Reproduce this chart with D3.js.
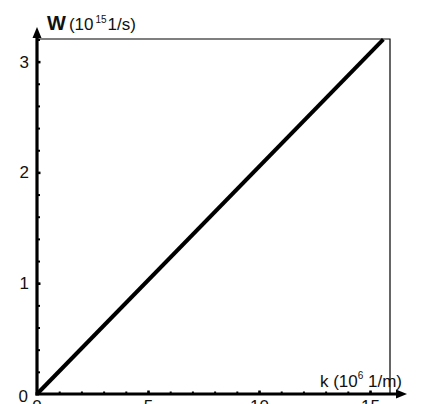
<!DOCTYPE html>
<html>
<head>
<meta charset="utf-8">
<script src="https://cdn.jsdelivr.net/npm/d3@7"></script>
<style>
  body { margin: 0; background: #fff; }
  svg { display: block; font-family: "Liberation Sans", Arial, sans-serif; }
</style>
</head>
<body>
<div class="chart"></div>
<script>
// data: dispersion line W(k)
const kValues = [0, 15.6];
const wValues = [0, 3.2];
const xTicks = [0, 5, 10, 15];
const yTicks = [0, 1, 2, 3];

const svg_width = 421;
const svg_height = 404;
const margin = { top: 39, right: 31, bottom: 10, left: 37 };
const width = svg_width - margin.left - margin.right;
const height = svg_height - margin.top - margin.bottom;

const svg = d3.select('.chart').append('svg')
    .attr('width', svg_width).attr('height', svg_height);
const g = svg.append('g')
    .attr('transform', `translate(${margin.left},${margin.top})`);

const xScale = d3.scaleLinear([0, 15.9], [0, width]);
const yScale = d3.scaleLinear([0, 3.204], [height, 0]);

// frame (top and right)
g.append('path')
    .attr('d', `M0,0H${width}V${height}`)
    .attr('fill', 'none').attr('stroke', '#000').attr('stroke-width', 1.2);

// minor ticks
const xMinor = d3.axisBottom(xScale).tickValues(d3.range(1, 16)).tickFormat('')
    .tickSizeInner(-2.5).tickSizeOuter(0);
g.append('g').attr('class', 'minor')
    .attr('transform', `translate(0,${height})`).call(xMinor);
const yMinor = d3.axisLeft(yScale).tickValues(d3.range(1, 17).map(i => i * 0.2)).tickFormat('')
    .tickSizeInner(-3).tickSizeOuter(0);
g.append('g').attr('class', 'minor').call(yMinor);
g.selectAll('.minor path').remove();
g.selectAll('.minor line').attr('stroke-width', 2);

// major ticks + labels (x labels are cut by the bottom edge, as in the source)
const xAxis = d3.axisBottom(xScale).tickValues(xTicks.slice(1)).tickFormat(d3.format('d'))
    .tickSizeInner(-3.5).tickSizeOuter(0).tickPadding(6);
const xAxisDraw = g.append('g').attr('class', 'x axis')
    .attr('transform', `translate(0,${height})`).call(xAxis);
xAxisDraw.select('.domain').remove();
xAxisDraw.selectAll('line').attr('stroke-width', 2.5);
xAxisDraw.selectAll('text').attr('font-size', 17).attr('fill', '#111');

const yAxis = d3.axisLeft(yScale).tickValues(yTicks.slice(1)).tickFormat(d3.format('d'))
    .tickSizeInner(-3.5).tickSizeOuter(0).tickPadding(8);
const yAxisDraw = g.append('g').attr('class', 'y axis').call(yAxis);
yAxisDraw.select('.domain').remove();
yAxisDraw.selectAll('line').attr('stroke-width', 2.5);
yAxisDraw.selectAll('text').attr('font-size', 17).attr('fill', '#111');

// origin labels
g.append('text').attr('x', -9).attr('y', height + 8).attr('text-anchor', 'end')
    .attr('font-size', 17).attr('fill', '#111').text(yTicks[0]);
g.append('text').attr('x', xScale(0)).attr('y', height + 18).attr('text-anchor', 'middle')
    .attr('font-size', 17).attr('fill', '#111').text(xTicks[0]);

// axis lines with arrows
g.append('line').attr('x1', 0).attr('y1', height + 1.5).attr('x2', 0).attr('y2', -4)
    .attr('stroke', '#000').attr('stroke-width', 3.2);
g.append('path').attr('d', 'M0,-12L-4.5,-1L4.5,-1Z').attr('fill', '#000');
g.append('line').attr('x1', -1.5).attr('y1', height).attr('x2', width + 10).attr('y2', height)
    .attr('stroke', '#000').attr('stroke-width', 3.2);
g.append('path').attr('d', `M${width + 17},${height}L${width + 6},${height - 4.5}L${width + 6},${height + 4.5}Z`)
    .attr('fill', '#000');

// the line
const lineData = kValues.map((k, i) => ({ k: k, w: wValues[i] }));
const line = d3.line().x(d => xScale(d.k)).y(d => yScale(d.w));
g.append('path').datum(lineData)
    .attr('d', line)
    .attr('fill', 'none').attr('stroke', '#000').attr('stroke-width', 4);

// axis titles
const yTitle = g.append('text').attr('x', 10).attr('y', -9).attr('fill', '#111');
yTitle.append('tspan').text('W').attr('font-size', 20).attr('font-weight', 'bold');
yTitle.append('tspan').text('(10').attr('font-size', 17).attr('dx', 3);
yTitle.append('tspan').text('15').attr('font-size', 10).attr('dx', 2).attr('dy', -7);
yTitle.append('tspan').text('1/s)').attr('font-size', 17).attr('dx', 1).attr('dy', 7);

const xTitle = g.append('text').attr('x', width + 12).attr('y', height - 7)
    .attr('text-anchor', 'end').attr('fill', '#111').attr('font-size', 17);
xTitle.append('tspan').text('k (10');
xTitle.append('tspan').text('6').attr('font-size', 10).attr('dy', -8);
xTitle.append('tspan').text(' 1/m)').attr('dy', 8);
</script>
</body>
</html>
